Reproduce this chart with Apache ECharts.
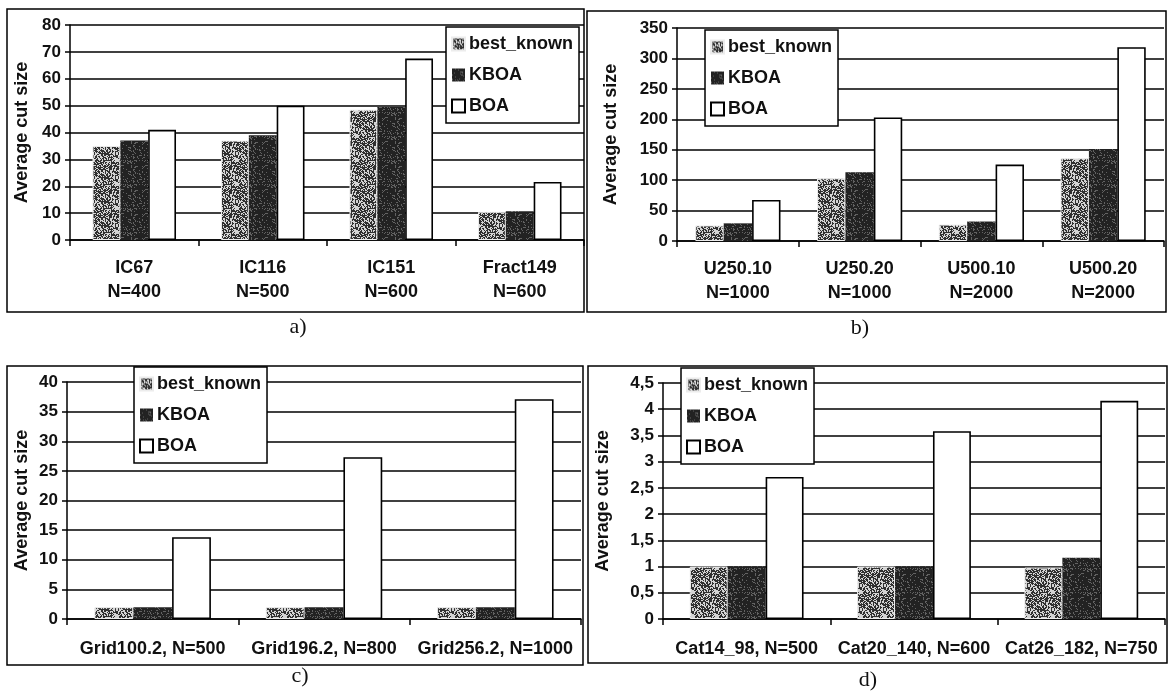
<!DOCTYPE html>
<html>
<head>
<meta charset="utf-8">
<title>Average cut size</title>
<script src="https://cdn.jsdelivr.net/npm/echarts@6/dist/echarts.min.js"></script>
<style>
  html, body { margin: 0; padding: 0; background: #ffffff; }
  #chart { width: 1173px; height: 693px; }
</style>
</head>
<body>
<div id="chart"></div>
<script>
// ---- data ----
const seriesNames = ['best_known', 'KBOA', 'BOA'];

const catsA = ['IC67\nN=400', 'IC116\nN=500', 'IC151\nN=600', 'Fract149\nN=600'];
const bestA = [35, 37, 48.5, 10.5];
const kboaA = [37, 39, 49.5, 10.7];
const boaA  = [41, 50, 67.5, 21.6];

const catsB = ['U250.10\nN=1000', 'U250.20\nN=1000', 'U500.10\nN=2000', 'U500.20\nN=2000'];
const bestB = [25.5, 103, 27, 136];
const kboaB = [29, 113, 32, 151];
const boaB  = [67.5, 203, 125.5, 318.5];

const catsC = ['Grid100.2, N=500', 'Grid196.2, N=800', 'Grid256.2, N=1000'];
const bestC = [2, 2, 2];
const kboaC = [2, 2, 2];
const boaC  = [13.8, 27.3, 37.1];

const catsD = ['Cat14_98, N=500', 'Cat20_140, N=600', 'Cat26_182, N=750'];
const bestD = [1, 1, 0.98];
const kboaD = [1, 1, 1.17];
const boaD  = [2.71, 3.58, 4.16];

const yMax      = [80, 350, 40, 4.5];
const yInterval = [10, 50, 5, 0.5];
const panelTags = ['a)', 'b)', 'c)', 'd)'];

// ---- fill textures (fixed hash, so the texture is the same every time) ----
function hash(n) {
  const s = Math.sin(n * 12.9898 + 78.233) * 43758.5453;
  return s - Math.floor(s);
}
function speckle(base, dot, density, seed) {
  const c = document.createElement('canvas');
  c.width = 24; c.height = 24;
  const g = c.getContext('2d');
  g.fillStyle = base;
  g.fillRect(0, 0, 24, 24);
  g.fillStyle = dot;
  for (let y = 0; y < 24; y++) {
    for (let x = 0; x < 24; x++) {
      if (hash(x * 31 + y * 97 + seed) < density) g.fillRect(x, y, 1, 1);
    }
  }
  return c;
}
const bestFill = { image: speckle('#d4d4d4', '#303030', 0.58, 11), repeat: 'repeat' };
const kboaFill = { image: speckle('#222222', '#626262', 0.15, 37), repeat: 'repeat' };

// ---- layout of the four panels ----
const panels = [
  { cats: catsA, best: bestA, kboa: kboaA, boa: boaA,
    grid: { left: 70, top: 25, width: 514, height: 215 }, gap: '35%', nameGap: 39, labelMargin: 16,
    legend: { left: 446, top: 27 }, frame: [7, 9, 577, 303], tag: [298, 327] },
  { cats: catsB, best: bestB, kboa: kboaB, boa: boaB,
    grid: { left: 677, top: 28, width: 487, height: 213 }, gap: '30%', nameGap: 57, labelMargin: 16,
    legend: { left: 705, top: 30 }, frame: [587, 11, 579, 301], tag: [860, 328] },
  { cats: catsC, best: bestC, kboa: kboaC, boa: boaC,
    grid: { left: 67, top: 382, width: 514, height: 237 }, gap: '32%', nameGap: 36, labelMargin: 18,
    legend: { left: 134, top: 367 }, frame: [7, 366, 576, 299], tag: [300, 676] },
  { cats: catsD, best: bestD, kboa: kboaD, boa: boaD,
    grid: { left: 663, top: 383, width: 502, height: 236 }, gap: '32%', nameGap: 51, labelMargin: 18,
    legend: { left: 681, top: 368 }, frame: [588, 366, 579, 297], tag: [868, 680] }
];

const FONT = '"Liberation Sans", Arial, sans-serif';
const grids = [], xAxes = [], yAxes = [], series = [], legends = [], graphics = [];

panels.forEach((p, i) => {
  grids.push(Object.assign({ containLabel: false }, p.grid));

  xAxes.push({
    type: 'category', gridIndex: i, data: p.cats,
    axisLine: { lineStyle: { color: '#000', width: 1.5 } },
    axisTick: { show: true, length: 6, lineStyle: { color: '#000', width: 1.5 } },
    axisLabel: {
      color: '#111', fontFamily: FONT, fontWeight: 'bold', fontSize: 18,
      lineHeight: 24, margin: p.labelMargin, interval: 0
    },
    splitLine: { show: false }
  });

  yAxes.push({
    type: 'value', gridIndex: i, min: 0, max: yMax[i], interval: yInterval[i],
    name: 'Average cut size', nameLocation: 'middle', nameGap: p.nameGap,
    nameTextStyle: { color: '#111', fontFamily: FONT, fontWeight: 'bold', fontSize: 18 },
    axisLine: { show: true, lineStyle: { color: '#000', width: 1.5 } },
    axisTick: { show: true, length: 5, lineStyle: { color: '#000', width: 1.5 } },
    axisLabel: {
      color: '#111', fontFamily: FONT, fontWeight: 'bold', fontSize: 17, margin: 9,
      formatter: v => String(v).replace('.', ',')
    },
    splitLine: { show: true, lineStyle: { color: '#000', width: 1.6 } }
  });

  const common = { type: 'bar', xAxisIndex: i, yAxisIndex: i, barGap: '0%', barCategoryGap: p.gap, animation: false };
  series.push(Object.assign({}, common, {
    name: seriesNames[0], data: p.best,
    itemStyle: { color: bestFill, borderColor: '#ececec', borderWidth: 1 }
  }));
  series.push(Object.assign({}, common, {
    name: seriesNames[1], data: p.kboa,
    itemStyle: { color: kboaFill }
  }));
  series.push(Object.assign({}, common, {
    name: seriesNames[2], data: p.boa,
    itemStyle: { color: '#ffffff', borderColor: '#000', borderWidth: 1.6 }
  }));

  legends.push({
    data: seriesNames, orient: 'vertical',
    left: p.legend.left, top: p.legend.top,
    backgroundColor: '#ffffff', borderColor: '#000', borderWidth: 1.5,
    padding: [8, 6, 8, 5], itemGap: 13, itemWidth: 13, itemHeight: 13,
    icon: 'rect', selectedMode: false,
    textStyle: { color: '#111', fontFamily: FONT, fontWeight: 'bold', fontSize: 18, lineHeight: 18, padding: [0, 0, 0, -1] }
  });

  // outer frame of the panel
  graphics.push({
    type: 'rect', silent: true, z: 0,
    shape: { x: p.frame[0], y: p.frame[1], width: p.frame[2], height: p.frame[3] },
    style: { fill: 'transparent', stroke: '#000', lineWidth: 1.5 }
  });
  // panel tag under the frame
  graphics.push({
    type: 'text', silent: true, x: p.tag[0], y: p.tag[1],
    style: {
      text: panelTags[i], fill: '#111', font: '22px "Liberation Serif", "Times New Roman", serif',
      align: 'center', verticalAlign: 'middle'
    }
  });
});

const chart = echarts.init(document.getElementById('chart'), null, { renderer: 'canvas' });
chart.setOption({
  backgroundColor: '#ffffff',
  animation: false,
  grid: grids,
  xAxis: xAxes,
  yAxis: yAxes,
  legend: legends,
  series: series,
  graphic: graphics
});
</script>
</body>
</html>
